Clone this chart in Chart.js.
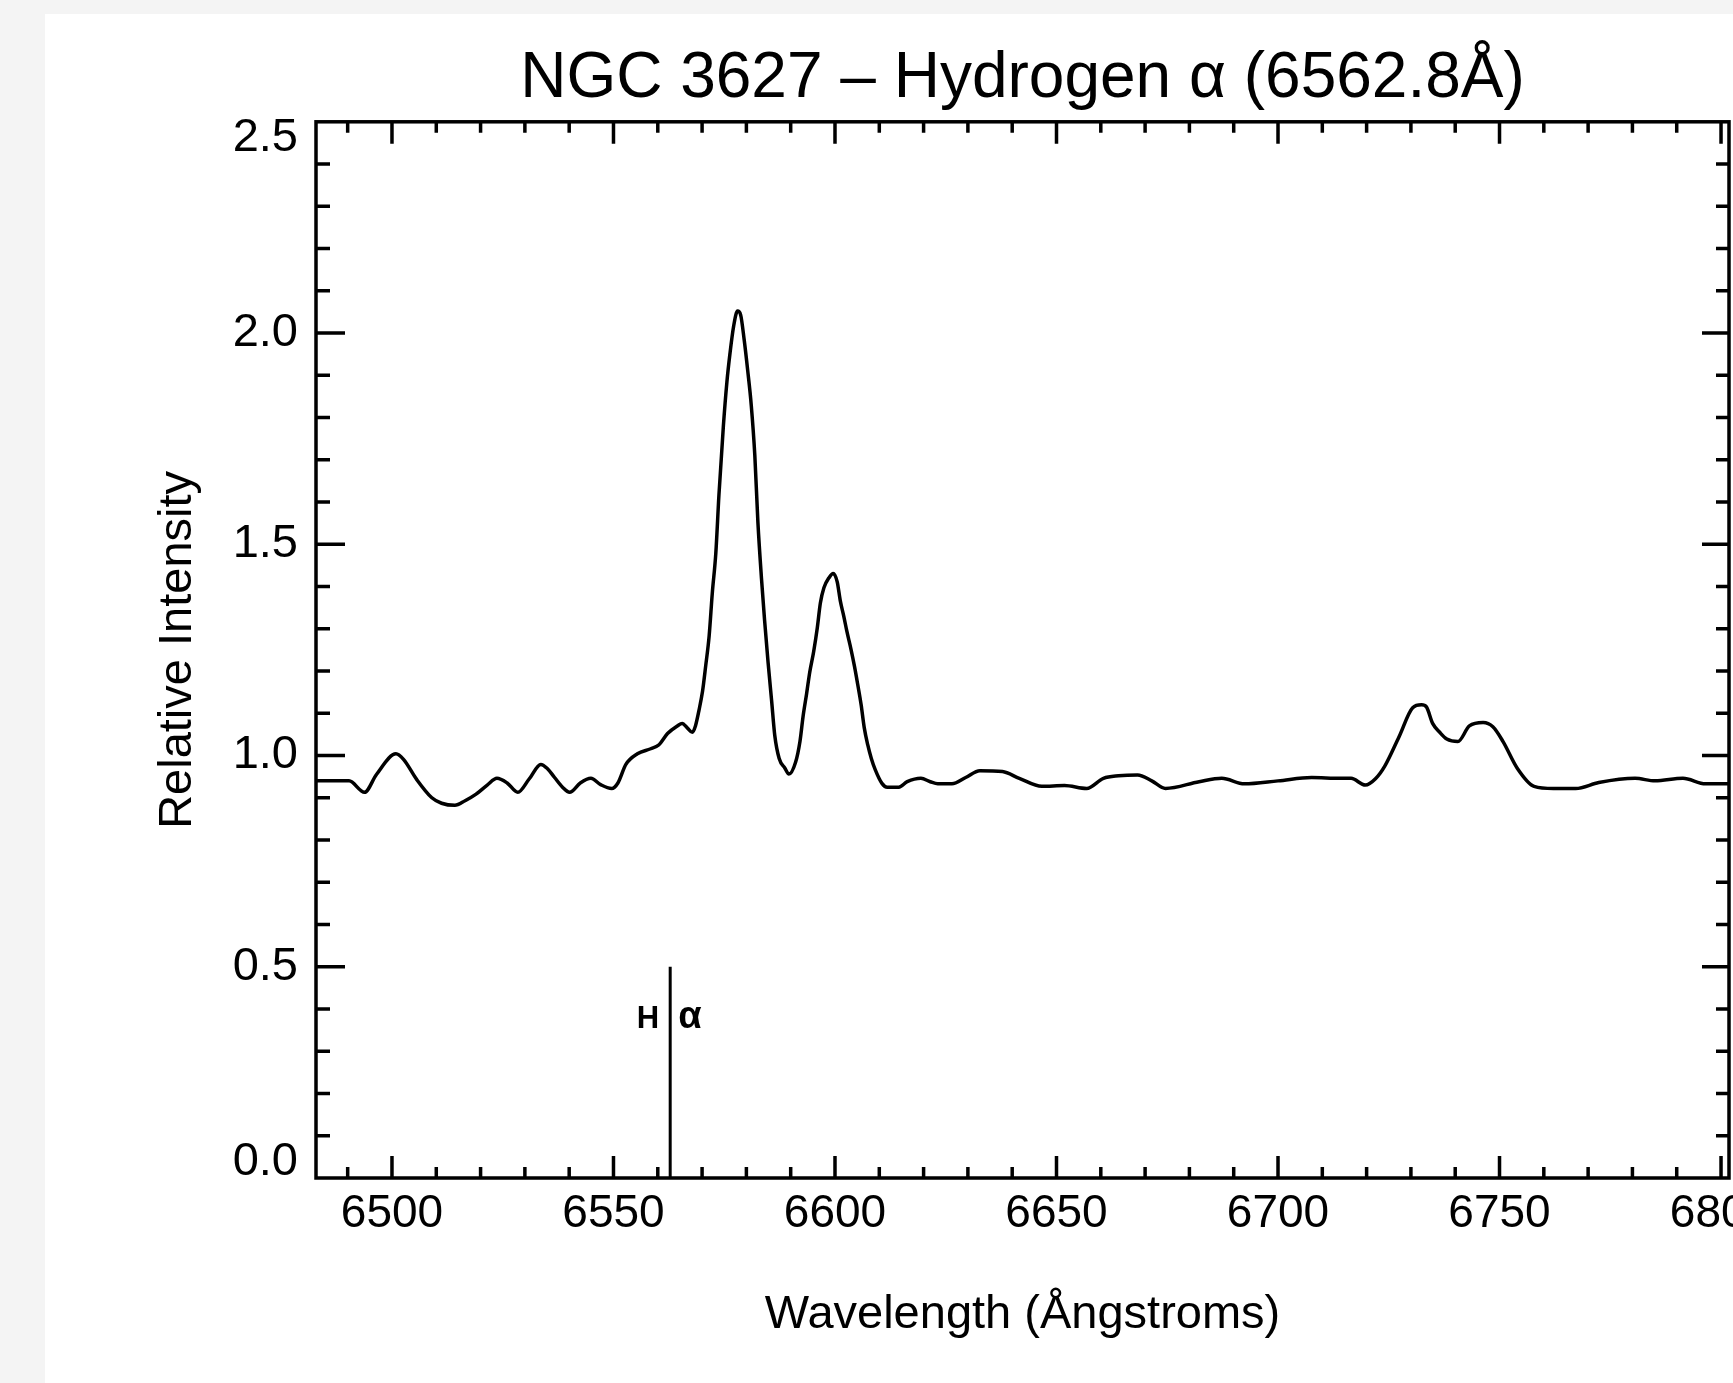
<!DOCTYPE html>
<html>
<head>
<meta charset="utf-8">
<script src="https://cdn.jsdelivr.net/npm/chart.js@4"></script>
<style>
  html, body { margin: 0; padding: 0; }
  body { width: 1733px; height: 1383px; background: #f4f4f4; overflow: hidden; position: relative; }
  .panel { position: absolute; left: 45px; top: 14px; right: 0; bottom: 0; background: #fff; }
  .wrap { position: absolute; left: 0; top: 0; width: 1733px; height: 1383px; }
</style>
</head>
<body>
<div class="panel"></div>
<div class="wrap"><canvas id="myChart"></canvas></div>
<script>
// spectrum: wavelength (Å) and relative intensity
const wavelengths = [
  6482.9, 6490.3, 6493.8, 6496.5, 6500.9, 6502.6, 6505.6, 6509.0, 6511.2, 6514.2,
  6516.5, 6518.9, 6521.5, 6523.7, 6526.0, 6528.4, 6531.0, 6533.6, 6535.0, 6536.7,
  6538.5, 6540.1, 6542.5, 6544.9, 6547.1, 6549.6, 6551.0, 6552.8, 6555.4, 6558.4,
  6560.2, 6562.2, 6564.4, 6565.5, 6566.7, 6567.8, 6568.5, 6569.3, 6570.1, 6570.8,
  6571.6, 6572.3, 6573.1, 6573.8, 6574.8, 6575.6, 6576.3, 6577.1, 6578.0, 6578.7,
  6579.5, 6580.3, 6581.1, 6581.9, 6582.6, 6583.4, 6584.1, 6584.9, 6585.7, 6586.4,
  6587.4, 6588.7, 6589.6, 6591.1, 6592.1, 6592.8, 6593.6, 6594.3, 6595.2, 6596.0,
  6596.7, 6597.5, 6598.6, 6599.6, 6600.5, 6601.2, 6602.0, 6602.7, 6603.6, 6604.4,
  6605.1, 6605.9, 6606.6, 6607.4, 6608.2, 6609.1, 6610.6, 6611.8, 6614.4, 6616.3,
  6619.4, 6621.5, 6623.2, 6626.4, 6629.5, 6632.7, 6637.8, 6641.6, 6646.7, 6651.8,
  6656.8, 6660.6, 6664.0, 6668.3, 6671.5, 6674.6, 6682.2, 6687.3, 6692.4, 6700.0,
  6707.6, 6714.0, 6716.5, 6719.7, 6722.0, 6724.1, 6727.3, 6730.4, 6732.4, 6733.5,
  6734.9, 6736.5, 6738.1, 6740.6, 6743.2, 6746.3, 6748.5, 6750.8, 6754.0, 6757.8,
  6762.2, 6767.2, 6772.4, 6780.6, 6785.1, 6791.4, 6796.5, 6801.8
];
const intensity = [
  0.940, 0.940, 0.913, 0.955, 1.004, 0.991, 0.943, 0.900, 0.887, 0.882,
  0.893, 0.908, 0.930, 0.946, 0.935, 0.913, 0.945, 0.979, 0.970, 0.948,
  0.925, 0.913, 0.935, 0.946, 0.931, 0.922, 0.935, 0.979, 1.004, 1.016,
  1.025, 1.052, 1.070, 1.076, 1.065, 1.055, 1.070, 1.107, 1.152, 1.211,
  1.284, 1.384, 1.479, 1.616, 1.779, 1.884, 1.952, 2.015, 2.052, 2.043,
  1.984, 1.911, 1.829, 1.711, 1.552, 1.420, 1.321, 1.220, 1.129, 1.048,
  0.993, 0.970, 0.956, 0.984, 1.034, 1.093, 1.147, 1.197, 1.247, 1.302,
  1.361, 1.397, 1.420, 1.431, 1.411, 1.366, 1.329, 1.293, 1.252, 1.211,
  1.170, 1.120, 1.066, 1.025, 0.993, 0.966, 0.934, 0.925, 0.925, 0.938,
  0.946, 0.938, 0.933, 0.933, 0.948, 0.964, 0.962, 0.946, 0.927, 0.929,
  0.922, 0.946, 0.952, 0.954, 0.940, 0.922, 0.938, 0.946, 0.933, 0.940,
  0.948, 0.946, 0.946, 0.930, 0.945, 0.975, 1.044, 1.113, 1.120, 1.115,
  1.076, 1.055, 1.039, 1.033, 1.070, 1.078, 1.068, 1.033, 0.970, 0.927,
  0.922, 0.922, 0.936, 0.946, 0.940, 0.946, 0.933, 0.933
];

// H-alpha marker
const haWave = [6562.8, 6562.8];
const haLevel = [0, 0.5];
const haLabels = ["H", "α"];

const xRange = [6482.85, 6801.8];
const yRange = [0, 2.5];
const xTicks = [6500, 6550, 6600, 6650, 6700, 6750, 6800];
const yTicks = [0, 0.5, 1.0, 1.5, 2.0, 2.5];
const yTickLabels = ["0.0", "0.5", "1.0", "1.5", "2.0", "2.5"];
const xMinorStep = 10;
const yMinorStep = 0.1;

const fontName = "'Liberation Sans', Arial, sans-serif";
Chart.defaults.color = "#000";
Chart.defaults.font.family = fontName;

// IDL-style box with inward ticks on all four sides
const boxTicks = {
  id: "boxTicks",
  afterDatasetsDraw(chart) {
    const { ctx, chartArea: a, scales: { x, y } } = chart;
    ctx.save();
    ctx.strokeStyle = "#000";
    ctx.lineWidth = 3.5;
    ctx.lineCap = "butt";
    ctx.strokeRect(a.left, a.top, a.right - a.left, a.bottom - a.top);
    ctx.beginPath();
    for (let v = Math.ceil(xRange[0] / xMinorStep) * xMinorStep; v <= xRange[1]; v += xMinorStep) {
      const px = x.getPixelForValue(v);
      const len = xTicks.includes(v) ? 22 : 11;
      ctx.moveTo(px, a.bottom); ctx.lineTo(px, a.bottom - len);
      ctx.moveTo(px, a.top); ctx.lineTo(px, a.top + len);
    }
    for (let i = 1; i < 25; i++) {
      const v = Math.round(i * yMinorStep * 10) / 10;
      const py = y.getPixelForValue(v);
      const major = yTicks.includes(v);
      ctx.moveTo(a.left, py); ctx.lineTo(a.left + (major ? 29 : 14), py);
      ctx.moveTo(a.right, py); ctx.lineTo(a.right - (major ? 27 : 13), py);
    }
    ctx.stroke();

    // H-alpha labels next to the marker
    const lx = x.getPixelForValue(haWave[0]);
    const ly = y.getPixelForValue(0.375);
    ctx.fillStyle = "#000";
    ctx.textBaseline = "middle";
    ctx.textAlign = "right";
    ctx.font = "bold 31px " + fontName;
    ctx.fillText(haLabels[0], lx - 11, ly);
    ctx.textAlign = "left";
    ctx.font = "bold 38px " + fontName;
    ctx.fillText(haLabels[1], lx + 8, ly - 2);
    ctx.restore();
  }
};

const ctx = document.getElementById("myChart");

const myChart = new Chart(ctx, {
  type: "line",
  data: {
    datasets: [
      {
        label: "NGC 3627",
        data: wavelengths.map((w, i) => ({ x: w, y: intensity[i] })),
        borderColor: "#000",
        borderWidth: 3.5,
        pointRadius: 0,
        cubicInterpolationMode: "monotone",
        fill: false,
      },
      {
        label: "H alpha",
        data: haWave.map((w, i) => ({ x: w, y: haLevel[i] })),
        borderColor: "#000",
        borderWidth: 3,
        pointRadius: 0,
        fill: false,
      },
    ],
  },
  options: {
    responsive: true,
    maintainAspectRatio: false,
    animation: false,
    events: [],
    layout: { padding: { left: 0, right: 4, top: 0, bottom: 0 } },
    plugins: {
      legend: { display: false },
      tooltip: { enabled: false },
      title: {
        display: true,
        fullSize: false,
        text: "NGC 3627 – Hydrogen α (6562.8Å)",
        color: "#000",
        font: { family: fontName, size: 64, weight: "normal", lineHeight: 1.2 },
        padding: { top: 41, bottom: 4 },
      },
    },
    scales: {
      x: {
        type: "linear",
        min: xRange[0],
        max: xRange[1],
        grid: { display: false, drawTicks: false },
        border: { display: false },
        afterBuildTicks: (s) => { s.ticks = xTicks.map((v) => ({ value: v })); },
        afterFit: (s) => { s.height = 205; s.paddingLeft = 0; s.paddingRight = 0; },
        ticks: {
          autoSkip: false,
          maxRotation: 0,
          padding: 9,
          font: { size: 46 },
          callback: (v) => String(v),
        },
        title: {
          display: true,
          text: "Wavelength (Ångstroms)",
          font: { size: 47 },
          padding: { top: 0, bottom: 40 },
        },
      },
      y: {
        min: yRange[0],
        max: yRange[1],
        grid: { display: false, drawTicks: false },
        border: { display: false },
        afterBuildTicks: (s) => { s.ticks = yTicks.map((v) => ({ value: v })); },
        afterFit: (s) => { s.width = 316; },
        ticks: {
          padding: 18,
          font: { size: 47, lineHeight: 0.7 },
          // end labels sit inside the frame, as in the original plot
          callback: (v, i) => {
            if (i === 0) return [yTickLabels[i], ""];
            if (i === yTickLabels.length - 1) return ["", yTickLabels[i]];
            return yTickLabels[i];
          },
        },
        title: {
          display: true,
          text: "Relative Intensity",
          font: { size: 47 },
          padding: { top: 150, bottom: 0 },
        },
      },
    },
  },
  plugins: [boxTicks],
});
</script>
</body>
</html>
